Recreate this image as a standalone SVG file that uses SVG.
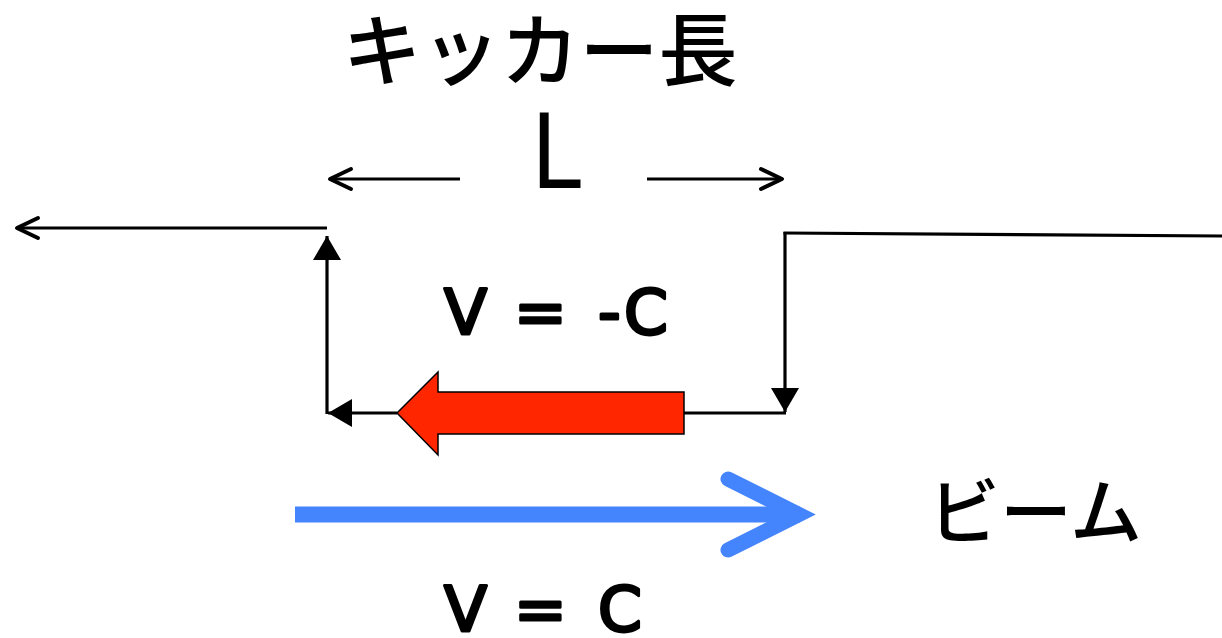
<svg xmlns="http://www.w3.org/2000/svg" width="1222" height="638" viewBox="0 0 1222 638">
<style>
.ln{stroke:#000;stroke-width:3.2;fill:none}
.lat{font-family:"DejaVu Sans","Liberation Sans",sans-serif;fill:#000}
.v{stroke:#000;stroke-width:3;stroke-linejoin:round}
.jp{font-family:"Noto Sans CJK JP","Noto Sans",sans-serif;fill:#000;font-weight:500}
</style>
<defs>
<marker id="tri" markerUnits="userSpaceOnUse" markerWidth="24" markerHeight="28" viewBox="0 0 24 28" refX="24" refY="14" orient="auto"><path d="M0,0 L24,14 L0,28 z" fill="#000"/></marker>
<marker id="chev" markerUnits="userSpaceOnUse" markerWidth="30" markerHeight="30" viewBox="-26 -15 30 30" refX="0" refY="0" orient="auto" overflow="visible"><path d="M-21,-10 L0,0 L-21,10" fill="none" stroke="#000" stroke-width="4" stroke-linecap="round" stroke-linejoin="round"/></marker>
</defs>
<g id="connectors">
<line class="ln" x1="460" y1="179" x2="330" y2="179" marker-end="url(#chev)"/>
<line class="ln" x1="647" y1="179" x2="782" y2="179" marker-end="url(#chev)"/>
<line class="ln" x1="327" y1="228" x2="17" y2="228" marker-end="url(#chev)"/>
<line class="ln" x1="327" y1="414" x2="327" y2="236" marker-end="url(#tri)"/>
<line class="ln" x1="397" y1="413" x2="328" y2="413" marker-end="url(#tri)"/>
<line class="ln" x1="785" y1="232" x2="785" y2="412" marker-end="url(#tri)"/>
<line class="ln" x1="783.5" y1="233" x2="1222" y2="236"/>
<line class="ln" x1="684" y1="413" x2="786" y2="413"/>
</g>
<g id="red-arrow">
<polygon points="397,413 438,372 438,392 684,392 684,434 438,434 438,455" fill="#ff2600" stroke="#000" stroke-width="1.5" stroke-linejoin="miter"/>
</g>
<g id="beam-arrow">
<line x1="295" y1="514.5" x2="800" y2="514.5" stroke="#4484fd" stroke-width="16"/>
<polyline points="728,479 799,514.5 728,550" fill="none" stroke="#4484fd" stroke-width="15" stroke-linecap="round" stroke-linejoin="miter"/>
</g>
<g id="labels">
<text class="jp" x="540" y="80" font-size="79" text-anchor="middle">キッカー長</text>
<text class="lat" x="531" y="188" font-size="104" textLength="50" lengthAdjust="spacingAndGlyphs">L</text>
<text class="lat v" x="444 480 514 560 598 624" y="333.5" font-size="63">V = -C</text>
<text class="jp" x="1035" y="538" font-size="72" text-anchor="middle">ビーム</text>
<text class="lat v" x="444 480 514 560 598" y="630.5" font-size="63">V = C</text>
</g>
</svg>
